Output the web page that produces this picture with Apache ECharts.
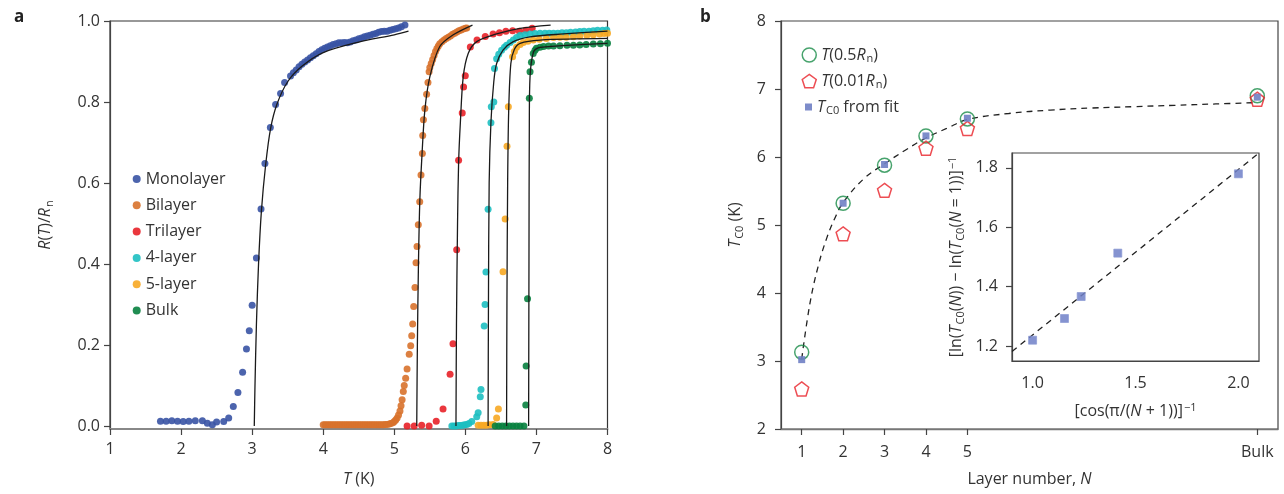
<!DOCTYPE html>
<html><head><meta charset="utf-8">
<script src="https://cdn.jsdelivr.net/npm/echarts@6/dist/echarts.min.js"></script>
<style>html,body{margin:0;padding:0;background:#fff}#c{width:1284px;height:494px}</style>
</head><body><div id="c"></div>
<script>
// ---------------- Panel a data: [T (K), R(T)/Rn] ----------------
const monolayer = [[1.71,0.012],[1.79,0.012],[1.87,0.013],[1.95,0.012],[2.03,0.011],[2.11,0.012],[2.20,0.013],[2.30,0.013],[2.37,0.007],[2.44,0.003],[2.50,0.01],[2.60,0.011],[2.67,0.02],[2.735,0.048],[2.80,0.083],[2.866,0.133],[2.92,0.19],[2.96,0.235],[3.0,0.298],[3.06,0.415],[3.125,0.536],[3.18,0.648],[3.256,0.737],[3.33,0.794],[3.40,0.821],[3.457,0.848],[3.54,0.864],[3.58,0.872],[3.62,0.879],[3.66,0.887],[3.70,0.893],[3.74,0.899],[3.78,0.904],[3.82,0.909],[3.86,0.914],[3.90,0.919],[3.94,0.925],[3.98,0.929],[4.02,0.933],[4.06,0.936],[4.10,0.939],[4.14,0.942],[4.18,0.944],[4.22,0.946],[4.26,0.946],[4.30,0.947],[4.34,0.946],[4.38,0.948],[4.42,0.951],[4.46,0.953],[4.50,0.956],[4.54,0.958],[4.58,0.961],[4.62,0.963],[4.66,0.965],[4.70,0.967],[4.74,0.969],[4.78,0.972],[4.82,0.974],[4.86,0.975],[4.90,0.975],[4.94,0.977],[4.98,0.979],[5.02,0.981],[5.06,0.983],[5.10,0.986],[5.15,0.99]];
const bilayer = [[4.00,0.003],[4.025,0.003],[4.05,0.003],[4.075,0.003],[4.10,0.003],[4.125,0.003],[4.15,0.003],[4.175,0.003],[4.20,0.003],[4.225,0.003],[4.25,0.003],[4.275,0.003],[4.30,0.003],[4.325,0.003],[4.35,0.003],[4.375,0.003],[4.40,0.003],[4.425,0.003],[4.45,0.003],[4.475,0.003],[4.50,0.003],[4.525,0.003],[4.55,0.003],[4.575,0.003],[4.60,0.003],[4.625,0.003],[4.65,0.003],[4.675,0.003],[4.70,0.003],[4.725,0.003],[4.75,0.003],[4.775,0.003],[4.80,0.003],[4.825,0.003],[4.85,0.003],[4.875,0.004],[4.90,0.004],[4.93,0.005],[4.95,0.006],[4.98,0.008],[5.00,0.011],[5.02,0.015],[5.04,0.02],[5.06,0.027],[5.08,0.037],[5.095,0.05],[5.11,0.065],[5.127,0.085],[5.14,0.1],[5.16,0.118],[5.18,0.141],[5.21,0.177],[5.231,0.198],[5.245,0.223],[5.259,0.252],[5.273,0.295],[5.291,0.342],[5.306,0.403],[5.32,0.443],[5.338,0.497],[5.358,0.554],[5.376,0.62],[5.395,0.673],[5.40,0.717],[5.41,0.756],[5.43,0.784],[5.455,0.819],[5.474,0.848],[5.49,0.875],[5.50,0.885],[5.52,0.895],[5.54,0.905],[5.56,0.915],[5.58,0.925],[5.60,0.932],[5.62,0.938],[5.64,0.944],[5.67,0.949],[5.70,0.953],[5.73,0.957],[5.76,0.96],[5.79,0.963],[5.82,0.967],[5.85,0.97],[5.88,0.973],[5.91,0.976],[5.94,0.978],[5.97,0.98],[6.0,0.982],[6.02,0.983]];
const trilayer = [[5.18,0.0],[5.28,0.0],[5.385,0.002],[5.49,0.0],[5.59,0.012],[5.686,0.042],[5.785,0.128],[5.826,0.203],[5.878,0.435],[5.905,0.656],[5.956,0.773],[5.975,0.837],[5.999,0.865],[6.07,0.936],[6.164,0.953],[6.28,0.962],[6.39,0.968],[6.48,0.971],[6.57,0.975],[6.665,0.976],[6.76,0.975],[6.85,0.977],[6.94,0.982]];
const layer4 = [[5.81,0.0],[5.84,0.0],[5.87,0.0],[5.90,0.001],[5.93,0.001],[5.96,0.002],[5.99,0.003],[6.02,0.004],[6.05,0.006],[6.09,0.011],[6.16,0.023],[6.18,0.033],[6.21,0.072],[6.22,0.09],[6.265,0.247],[6.277,0.30],[6.29,0.38],[6.32,0.535],[6.36,0.749],[6.365,0.788],[6.40,0.80],[6.41,0.883],[6.44,0.907],[6.47,0.918],[6.51,0.928],[6.55,0.935],[6.58,0.94],[6.63,0.947],[6.675,0.953],[6.72,0.959],[6.77,0.964],[6.84,0.966],[6.91,0.968],[6.98,0.969],[7.05,0.97],[7.12,0.97],[7.18,0.97],[7.24,0.97],[7.30,0.97],[7.36,0.971],[7.42,0.971],[7.48,0.972],[7.55,0.973],[7.61,0.974],[7.67,0.975],[7.74,0.975],[7.80,0.976],[7.86,0.977],[7.93,0.977],[7.99,0.978]];
const layer5 = [[6.18,0.002],[6.22,0.002],[6.26,0.002],[6.30,0.002],[6.34,0.003],[6.39,0.004],[6.44,0.02],[6.465,0.042],[6.53,0.381],[6.56,0.511],[6.586,0.691],[6.605,0.788],[6.665,0.912],[6.69,0.925],[6.72,0.935],[6.77,0.942],[6.815,0.947],[6.88,0.95],[6.955,0.953],[7.04,0.955],[7.14,0.957],[7.24,0.959],[7.33,0.96],[7.42,0.96],[7.52,0.961],[7.61,0.963],[7.71,0.965],[7.80,0.966],[7.89,0.968],[7.95,0.969],[8.0,0.97]];
const bulk = [[6.42,0.0],[6.47,0.0],[6.52,0.0],[6.57,0.0],[6.62,0.0],[6.67,0.0],[6.72,0.0],[6.77,0.0],[6.825,0.0],[6.85,0.052],[6.855,0.148],[6.875,0.314],[6.90,0.809],[6.91,0.875],[6.93,0.898],[6.955,0.92],[6.98,0.928],[7.0,0.933],[7.05,0.935],[7.10,0.937],[7.17,0.938],[7.24,0.938],[7.33,0.939],[7.43,0.94],[7.52,0.94],[7.61,0.941],[7.70,0.942],[7.80,0.943],[7.90,0.944],[8.0,0.945]];
// fit curves
const monoFit = [[3.03,0],[3.04,0.1],[3.06,0.25],[3.09,0.4],[3.13,0.53],[3.19,0.645],[3.26,0.735],[3.35,0.795],[3.5,0.85],[3.7,0.888],[4.0,0.922],[4.5,0.948],[5.0,0.966],[5.2,0.975]];
const biFit = [[5.316,0],[5.325,0.2],[5.34,0.4],[5.36,0.56],[5.39,0.67],[5.43,0.78],[5.5,0.862],[5.64,0.937],[5.83,0.966],[6.1,0.99]];
const triFit = [[5.868,0],[5.875,0.25],[5.89,0.5],[5.905,0.65],[5.93,0.75],[5.97,0.862],[6.04,0.92],[6.16,0.949],[6.44,0.968],[6.77,0.982],[7.2,0.99]];
const layer4Fit = [[6.32,0],[6.325,0.3],[6.335,0.6],[6.36,0.75],[6.4,0.85],[6.44,0.895],[6.53,0.928],[6.675,0.949],[6.91,0.961],[7.38,0.968],[8.0,0.975]];
const layer5Fit = [[6.58,0],[6.585,0.3],[6.595,0.6],[6.61,0.78],[6.64,0.895],[6.69,0.93],[6.77,0.945],[7.05,0.953],[8.0,0.957]];
const bulkFit = [[6.89,0],[6.895,0.4],[6.9,0.75],[6.91,0.862],[6.96,0.924],[7.05,0.935],[8.0,0.945]];
const aYTicks = [0, 0.2, 0.4, 0.6, 0.8, 1.0];

// ---------------- Panel b data ----------------
const layerN = [1, 2, 3, 4, 5, 12];           // 12 = Bulk position
const bXTicks = [1, 2, 3, 4, 5, 12];
const tHalf = [3.13, 5.32, 5.88, 6.31, 6.56, 6.90];   // T(0.5Rn)
const tOnePct = [2.59, 4.87, 5.51, 6.13, 6.42, 6.85]; // T(0.01Rn)
const tFit = [3.02, 5.32, 5.89, 6.31, 6.57, 6.88];    // Tc0 from fit
const curveN = [1, 1.2, 1.4, 1.6, 1.8, 2, 2.5, 3, 3.5, 4, 4.5, 5, 6, 7, 8, 9, 10, 11, 12];
const curveT = [3.03, 3.85, 4.4, 4.8, 5.1, 5.33, 5.68, 5.9, 6.1, 6.28, 6.42, 6.55, 6.64, 6.69, 6.72, 6.74, 6.76, 6.78, 6.80];
// inset
const insetX = [1.0, 1.155, 1.236, 1.414, 2.0];
const insetY = [1.22, 1.293, 1.367, 1.513, 1.78];
const insetLineX = [0.9, 2.1];
const insetLineY = [1.182, 1.85];
const insetYTicks = [1.2, 1.4, 1.6, 1.8];
const insetXTicks = [1.0, 1.5, 2.0];

const FONT = '"Open Sans", "Noto Sans", sans-serif';
const TXT = '#333';
function richSet(fs) {
  return {
    i: {fontStyle: 'italic', fontFamily: FONT, fontSize: fs, color: TXT},
    r: {fontFamily: FONT, fontSize: fs, color: TXT},
    s: {fontFamily: FONT, fontSize: Math.round(fs*0.7), color: TXT, padding: [8, 0, 0, 1]},
    p: {fontFamily: FONT, fontSize: Math.round(fs*0.7), color: TXT, padding: [0, 0, 8, 1]}
  };
}
const zip = (a, b) => a.map((v, i) => [v, b[i]]);

const COLORS = {mono: '#3953a4', bi: '#d8722c', tri: '#e82128', l4: '#1dbfc1', l5: '#f7a823', bulk: '#08813f'};
const dotSeries = (name, data, color) => ({
  name, type: 'scatter', xAxisIndex: 0, yAxisIndex: 0, data, symbolSize: 7,
  itemStyle: {color, opacity: 0.9}, z: 2
});
const fitSeries = (data) => ({
  type: 'line', xAxisIndex: 0, yAxisIndex: 0, data, showSymbol: false, smooth: 0.3,
  lineStyle: {color: '#1a1a1a', width: 1.3}, z: 3, silent: true
});
const PENTA = 'path://M0,-1L0.951,-0.309L0.588,0.809L-0.588,0.809L-0.951,-0.309Z';

const axisCommon = {
  axisLine: {show: true, onZero: false, lineStyle: {color: '#444', width: 1.2}},
  axisTick: {show: true, inside: false, length: 6, lineStyle: {color: '#444', width: 1.2}},
  splitLine: {show: false},
  axisLabel: {fontFamily: FONT, fontSize: 16, color: TXT}
};

const option = {
  animation: false,
  backgroundColor: '#fff',
  title: [
    {text: 'a', left: 9, top: 4, textStyle: {fontFamily: FONT, fontSize: 17, fontWeight: 'bold', color: '#222'}},
    {text: 'b', left: 695, top: 4, textStyle: {fontFamily: FONT, fontSize: 17, fontWeight: 'bold', color: '#222'}}
  ],
  grid: [
    {left: 110, top: 21, width: 497.5, height: 408, show: true, borderColor: '#333', borderWidth: 1.2, backgroundColor: 'transparent'},
    {left: 781, top: 21, width: 497, height: 408, show: true, borderColor: '#444', borderWidth: 1.2, backgroundColor: 'transparent'},
    {left: 1012, top: 153, width: 247, height: 208, show: true, borderColor: '#444', borderWidth: 1.2, backgroundColor: '#fff', z: 5}
  ],
  xAxis: [
    Object.assign({}, axisCommon, {
      gridIndex: 0, type: 'value', min: 1, max: 8, interval: 1,
      axisLine: {show: true, onZero: false, lineStyle: {color: '#888', width: 1.8}},
      axisLabel: Object.assign({}, axisCommon.axisLabel, {margin: 12}),
      name: '{i|T}{r| (K)}', nameLocation: 'middle', nameGap: 42,
      nameTextStyle: {rich: richSet(16)}
    }),
    Object.assign({}, axisCommon, {
      gridIndex: 1, type: 'value', min: 0.5, max: 12.5,
      axisLine: {show: true, onZero: false, lineStyle: {color: '#777', width: 1.4}},
      axisTick: Object.assign({}, axisCommon.axisTick, {customValues: bXTicks}),
      axisLabel: Object.assign({}, axisCommon.axisLabel, {margin: 15, customValues: bXTicks,
        formatter: v => (v === 12 ? 'Bulk' : String(v))}),
      name: '{r|Layer number, }{i|N}', nameLocation: 'middle', nameGap: 42,
      nameTextStyle: {rich: richSet(16)}
    }),
    Object.assign({}, axisCommon, {
      gridIndex: 2, type: 'value', min: 0.9, max: 2.1,
      axisTick: {show: false, customValues: insetXTicks},
      axisLabel: Object.assign({}, axisCommon.axisLabel, {margin: 14, customValues: insetXTicks,
        formatter: v => v.toFixed(1)}),
      name: '{r|[cos(π/(}{i|N}{r| + 1))]}{p|−1}', nameLocation: 'middle', nameGap: 41,
      nameTextStyle: {rich: richSet(16)}, z: 6
    })
  ],
  yAxis: [
    Object.assign({}, axisCommon, {
      gridIndex: 0, type: 'value', min: -0.0074, max: 1.0,
      axisTick: Object.assign({}, axisCommon.axisTick, {customValues: aYTicks}),
      axisLabel: Object.assign({}, axisCommon.axisLabel, {margin: 10, customValues: aYTicks,
        formatter: v => v.toFixed(1)}),
      name: '{i|R}{r|(}{i|T}{r|)/}{i|R}{s|n}', nameLocation: 'middle', nameGap: 55, nameRotate: 90,
      nameTextStyle: {rich: richSet(16)}
    }),
    Object.assign({}, axisCommon, {
      gridIndex: 1, type: 'value', min: 2, max: 8, interval: 1,
      axisLabel: Object.assign({}, axisCommon.axisLabel, {margin: 15}),
      name: '{i|T}{s|C0}{r| (K)}', nameLocation: 'middle', nameGap: 36, nameRotate: 90,
      nameTextStyle: {rich: richSet(16)}
    }),
    Object.assign({}, axisCommon, {
      gridIndex: 2, type: 'value', min: 1.15, max: 1.85,
      axisTick: Object.assign({}, axisCommon.axisTick, {customValues: insetYTicks}),
      axisLabel: Object.assign({}, axisCommon.axisLabel, {margin: 14, customValues: insetYTicks,
        formatter: v => v.toFixed(1)}),
      name: '{r|[ln(}{i|T}{s|C0}{r|(}{i|N}{r|)) − ln(}{i|T}{s|C0}{r|(}{i|N}{r| = 1))]}{p|−1}',
      nameLocation: 'middle', nameGap: 46, nameRotate: 90,
      nameTextStyle: {rich: richSet(16)}, z: 6
    })
  ],
  legend: [
    {
      data: ['Monolayer', 'Bilayer', 'Trilayer', '4-layer', '5-layer', 'Bulk'],
      orient: 'vertical', left: 132.7, top: 169, padding: 0, itemWidth: 8, itemHeight: 8, itemGap: 6.3, icon: 'circle',
      textStyle: {fontFamily: FONT, fontSize: 16, color: TXT, lineHeight: 20}
    },
    {
      data: [{name: 'T05', icon: 'circle', itemStyle: {color: 'rgba(0,0,0,0)', borderColor: '#1a8c48', borderWidth: 1.5}}],
      left: 801.5, top: 47, padding: 0, itemWidth: 14, itemHeight: 14,
      formatter: () => '{i|T}{r|(0.5}{i|R}{s|n}{r|)}',
      textStyle: {rich: richSet(16)}
    },
    {
      data: [{name: 'T001', icon: PENTA, itemStyle: {color: 'rgba(0,0,0,0)', borderColor: '#e82128', borderWidth: 1.5}}],
      left: 801.5, top: 73, padding: 0, itemWidth: 14, itemHeight: 14,
      formatter: () => '{i|T}{r|(0.01}{i|R}{s|n}{r|)}',
      textStyle: {rich: richSet(16)}
    },
    {
      data: [{name: 'TFit', icon: 'rect', itemStyle: {color: '#6f7fc4'}}],
      left: 805, top: 99, padding: 0, itemWidth: 7, itemHeight: 7,
      formatter: () => '{i|T}{s|C0}{r| from fit}',
      textStyle: {rich: richSet(16)}
    }
  ],
  series: [
    dotSeries('Monolayer', monolayer, COLORS.mono),
    dotSeries('Bilayer', bilayer, COLORS.bi),
    dotSeries('Trilayer', trilayer, COLORS.tri),
    dotSeries('4-layer', layer4, COLORS.l4),
    dotSeries('5-layer', layer5, COLORS.l5),
    dotSeries('Bulk', bulk, COLORS.bulk),
    fitSeries(monoFit), fitSeries(biFit), fitSeries(triFit),
    fitSeries(layer4Fit), fitSeries(layer5Fit), fitSeries(bulkFit),
    {
      type: 'line', xAxisIndex: 1, yAxisIndex: 1, data: zip(curveN, curveT), showSymbol: false, smooth: 0.4,
      lineStyle: {color: '#222', width: 1.3, type: [6, 5]}, z: 2, silent: true
    },
    {
      name: 'T05', type: 'scatter', xAxisIndex: 1, yAxisIndex: 1, data: zip(layerN, tHalf), symbol: 'circle', symbolSize: 14,
      itemStyle: {color: 'rgba(0,0,0,0)', borderColor: '#1a8c48', borderWidth: 1.5}, z: 3
    },
    {
      name: 'T001', type: 'scatter', xAxisIndex: 1, yAxisIndex: 1, data: zip(layerN, tOnePct), symbol: PENTA, symbolSize: 14,
      itemStyle: {color: 'rgba(0,0,0,0)', borderColor: '#e82128', borderWidth: 1.5}, z: 3
    },
    {
      name: 'TFit', type: 'scatter', xAxisIndex: 1, yAxisIndex: 1, data: zip(layerN, tFit), symbol: 'rect', symbolSize: 7,
      itemStyle: {color: '#6f7fc4', opacity: 0.9}, z: 4
    },
    {
      type: 'line', xAxisIndex: 2, yAxisIndex: 2, data: zip(insetLineX, insetLineY), showSymbol: false,
      lineStyle: {color: '#222', width: 1.3, type: [6, 5]}, z: 6, silent: true
    },
    {
      type: 'scatter', xAxisIndex: 2, yAxisIndex: 2, data: zip(insetX, insetY), symbol: 'rect', symbolSize: 8,
      itemStyle: {color: '#7080c8', opacity: 0.85, borderColor: '#8a98d4', borderWidth: 0.8}, z: 7
    }
  ]
};
const chart = echarts.init(document.getElementById('c'), null, {renderer: 'canvas'});
chart.setOption(option);
</script></body></html>
